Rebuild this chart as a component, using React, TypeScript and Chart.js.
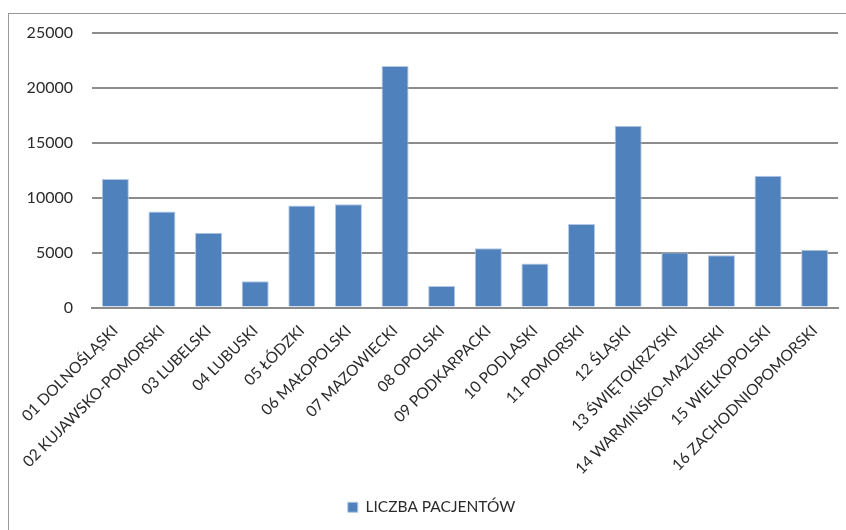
import React, { useEffect, useRef } from "react";
import { Chart, registerables } from "chart.js";

Chart.register(...registerables);

const categories = [
  "01 DOLNOŚLĄSKI",
  "02 KUJAWSKO-POMORSKI",
  "03 LUBELSKI",
  "04 LUBUSKI",
  "05 ŁÓDZKI",
  "06 MAŁOPOLSKI",
  "07 MAZOWIECKI",
  "08 OPOLSKI",
  "09 PODKARPACKI",
  "10 PODLASKI",
  "11 POMORSKI",
  "12 ŚLĄSKI",
  "13 ŚWIĘTOKRZYSKI",
  "14 WARMIŃSKO-MAZURSKI",
  "15 WIELKOPOLSKI",
  "16 ZACHODNIOPOMORSKI",
];

const patients = [
  11700, 8750, 6800, 2400, 9300, 9400, 22000, 1950, 5400, 4000, 7600, 16550,
  5000, 4750, 12000, 5250,
];

const seriesName = "LICZBA PACJENTÓW";

const yMin = 0;
const yMax = 25000;
const yStep = 5000;

const FONT = "Lato, 'Liberation Sans', sans-serif";
const TEXT = "#2b2b2b";

export default function App() {
  const ref = useRef<HTMLCanvasElement | null>(null);

  useEffect(() => {
    if (!ref.current) return;
    const chart = new Chart(ref.current, {
      type: "bar",
      data: {
        labels: categories,
        datasets: [
          {
            label: seriesName,
            data: patients,
            backgroundColor: "#4f81bd",
            borderColor: "#b4c8e4",
            borderWidth: 1,
            barPercentage: 0.58,
            categoryPercentage: 1,
          },
        ],
      },
      options: {
        animation: false,
        responsive: false,
        devicePixelRatio: 1,
        layout: { padding: { left: 16, right: 8, top: 19, bottom: 5 } },
        plugins: {
          tooltip: { enabled: false },
          legend: {
            position: "bottom",
            labels: {
              boxWidth: 10,
              boxHeight: 10,
              padding: 10,
              color: TEXT,
              font: { family: FONT, size: 15.5 },
            },
          },
        },
        scales: {
          x: {
            grid: { display: false },
            border: { display: true, color: "#8c8c8c", width: 2 },
            ticks: {
              minRotation: 45,
              maxRotation: 45,
              autoSkip: false,
              padding: 6,
              color: TEXT,
              font: { family: FONT, size: 15.5 },
            },
            afterFit: (s: any) => {
              s.height = 182;
            },
          },
          y: {
            min: yMin,
            max: yMax,
            grid: { color: "#8c8c8c", lineWidth: 2, drawTicks: false },
            border: { display: false },
            ticks: {
              stepSize: yStep,
              padding: 19,
              color: TEXT,
              font: { family: FONT, size: 16 },
              callback: (v: any) => String(v),
            },
            afterFit: (s: any) => {
              s.width = 67;
              s.paddingTop = 10;
              s.paddingBottom = 0;
            },
          },
        },
      },
    });
    return () => chart.destroy();
  }, []);

  return (
    <div
      style={{
        position: "fixed",
        left: 8,
        top: 13,
        width: 837,
        height: 516,
        borderLeft: "1px solid #999",
        borderTop: "1px solid #999",
        background: "#fff",
      }}
    >
      <canvas ref={ref} width={837} height={516} style={{ display: "block" }} />
    </div>
  );
}
